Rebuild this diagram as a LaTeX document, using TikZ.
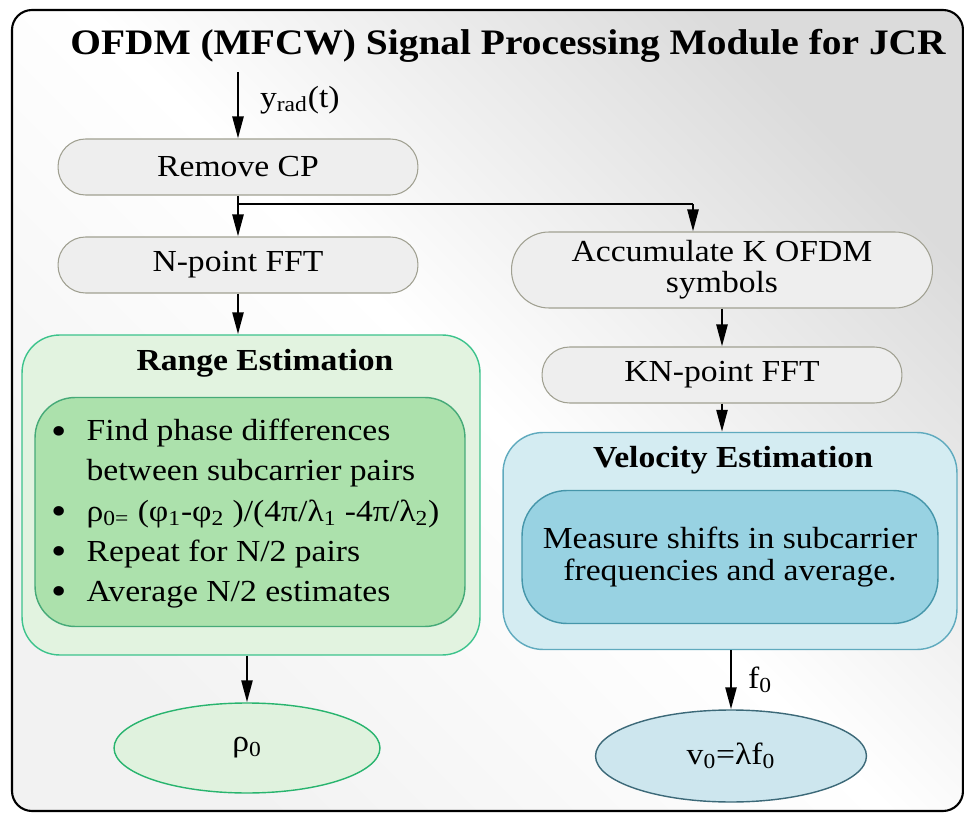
\documentclass[tikz,border=0pt]{standalone}
\usepackage{fontspec}
\setmainfont{Liberation Serif}[FakeStretch=1.1]
\usetikzlibrary{arrows.meta,shapes.geometric}

\definecolor{boxline}{RGB}{160,160,145}
\definecolor{boxfill}{RGB}{238,238,238}
\definecolor{greenline}{RGB}{60,195,140}
\definecolor{greenfill}{RGB}{226,243,224}
\definecolor{greeninline}{RGB}{70,170,120}
\definecolor{greeninfill}{RGB}{172,225,172}
\definecolor{rholine}{RGB}{40,180,110}
\definecolor{rhofill}{RGB}{224,242,222}
\definecolor{blueline}{RGB}{95,170,190}
\definecolor{bluefill}{RGB}{212,236,242}
\definecolor{blueinline}{RGB}{70,150,170}
\definecolor{blueinfill}{RGB}{152,210,226}
\definecolor{vline}{RGB}{60,105,120}
\definecolor{vfill}{RGB}{205,230,238}

\newcommand\bodysize{\fontsize{17.4}{18}\selectfont}
\newcommand\titlesize{\fontsize{20.4}{24}\selectfont}
\newcommand\bigdot{\raisebox{-0.25ex}{\scalebox{1.3}{\textbullet}}}

\begin{document}
\begin{tikzpicture}[x=0.02cm,y=-0.02cm,
    arrow/.style = {line width=1.4pt,-{Triangle[length=0.44cm,width=0.22cm]}},
    plain/.style = {line width=1.4pt},
    stepbox/.style = {draw=boxline,fill=boxfill,line width=0.6pt,rounded corners=0.55cm,
                      minimum width=7.2cm,minimum height=1.12cm,font=\bodysize},
    estbox/.style = {line width=0.8pt,rounded corners=0.75cm},
    result/.style = {ellipse,line width=0.8pt,font=\bodysize}]
    \useasboundingbox (0,0) rectangle (964,814);

    \draw[line width=1.2pt,rounded corners=0.4cm,shading=axis,top color=gray!28,
          bottom color=gray!10,middle color=white,shading angle=-45] (12,10) rectangle (963,811);

    \node[font=\titlesize\bfseries] (title) at (508,46) {OFDM (MFCW) Signal Processing Module for JCR};

    \coordinate (in) at (238,72);
    \node[stepbox] (rmcp) at (238,167) {Remove CP};
    \node[stepbox] (nfft) at (238,265) {N-point FFT};
    \node[stepbox,minimum width=8.42cm,minimum height=1.52cm,rounded corners=0.75cm,
          align=center,font=\fontsize{17.4}{17.5}\selectfont] (accum) at (722,270) {Accumulate K OFDM\\symbols};
    \node[stepbox] (kfft) at (722,375) {KN-point FFT};

    \node[estbox,draw=greenline,fill=greenfill,minimum width=9.16cm,minimum height=6.4cm] (range) at (251,495) {};
    \node[font=\bodysize\bfseries] (rangehead) at (265,363) {Range Estimation};
    \node[estbox,draw=greeninline,fill=greeninfill,rounded corners=0.8cm,
          minimum width=8.6cm,minimum height=4.58cm] (rangein) at (250,512) {};
    \node[anchor=west,inner sep=0pt,font=\fontsize{17.4}{22.8}\selectfont] (rangetext) at (51,513) {%
        \begin{tabular}{@{}c@{\hspace{0.4cm}}l@{}}
        \bigdot & Find phase differences\\
                & between subcarrier pairs\\
        \bigdot & ρ\textsubscript{0=} (φ\textsubscript{1}-φ\textsubscript{2} )/(4π/λ\textsubscript{1} -4π/λ\textsubscript{2})\\
        \bigdot & Repeat for N/2 pairs\\
        \bigdot & Average N/2 estimates
        \end{tabular}};

    \node[estbox,draw=blueline,fill=bluefill,rounded corners=0.8cm,
          minimum width=9.08cm,minimum height=4.34cm] (vel) at (730,541) {};
    \node[font=\bodysize\bfseries] (velhead) at (733,460) {Velocity Estimation};
    \node[estbox,draw=blueinline,fill=blueinfill,rounded corners=0.9cm,minimum width=8.32cm,
          minimum height=2.66cm,align=center,font=\fontsize{17.4}{18.2}\selectfont] (velin) at (730,557)
          {Measure shifts in subcarrier\\frequencies and average.};

    \node[result,draw=rholine,fill=rhofill,minimum width=5.32cm,minimum height=1.8cm] (rho) at (247,748) {ρ\textsubscript{0}};
    \node[result,draw=vline,fill=vfill,minimum width=5.42cm,minimum height=1.84cm] (vnode) at (731,756) {v\textsubscript{0}=λf\textsubscript{0}};

    \coordinate (junc) at (238,204);
    \coordinate (split) at (693,204);

    \draw[arrow] (in) -- node[right=0.3cm,pos=0.42,font=\bodysize] {y\textsubscript{rad}(t)} (rmcp);
    \draw[arrow] (rmcp) -- (nfft);
    \draw[plain] (junc) -- (split);
    \draw[arrow] (split) -- (split |- accum.north);
    \draw[arrow] (nfft) -- (nfft.south |- range.north);
    \draw[arrow] (accum) -- (kfft);
    \draw[arrow] (kfft) -- (kfft.south |- vel.north);
    \draw[arrow] (rho.north |- range.south) -- (rho);
    \draw[arrow] (vnode.north |- vel.south) -- node[right=0.2cm,font=\bodysize] {f\textsubscript{0}} (vnode);
\end{tikzpicture}
\end{document}
